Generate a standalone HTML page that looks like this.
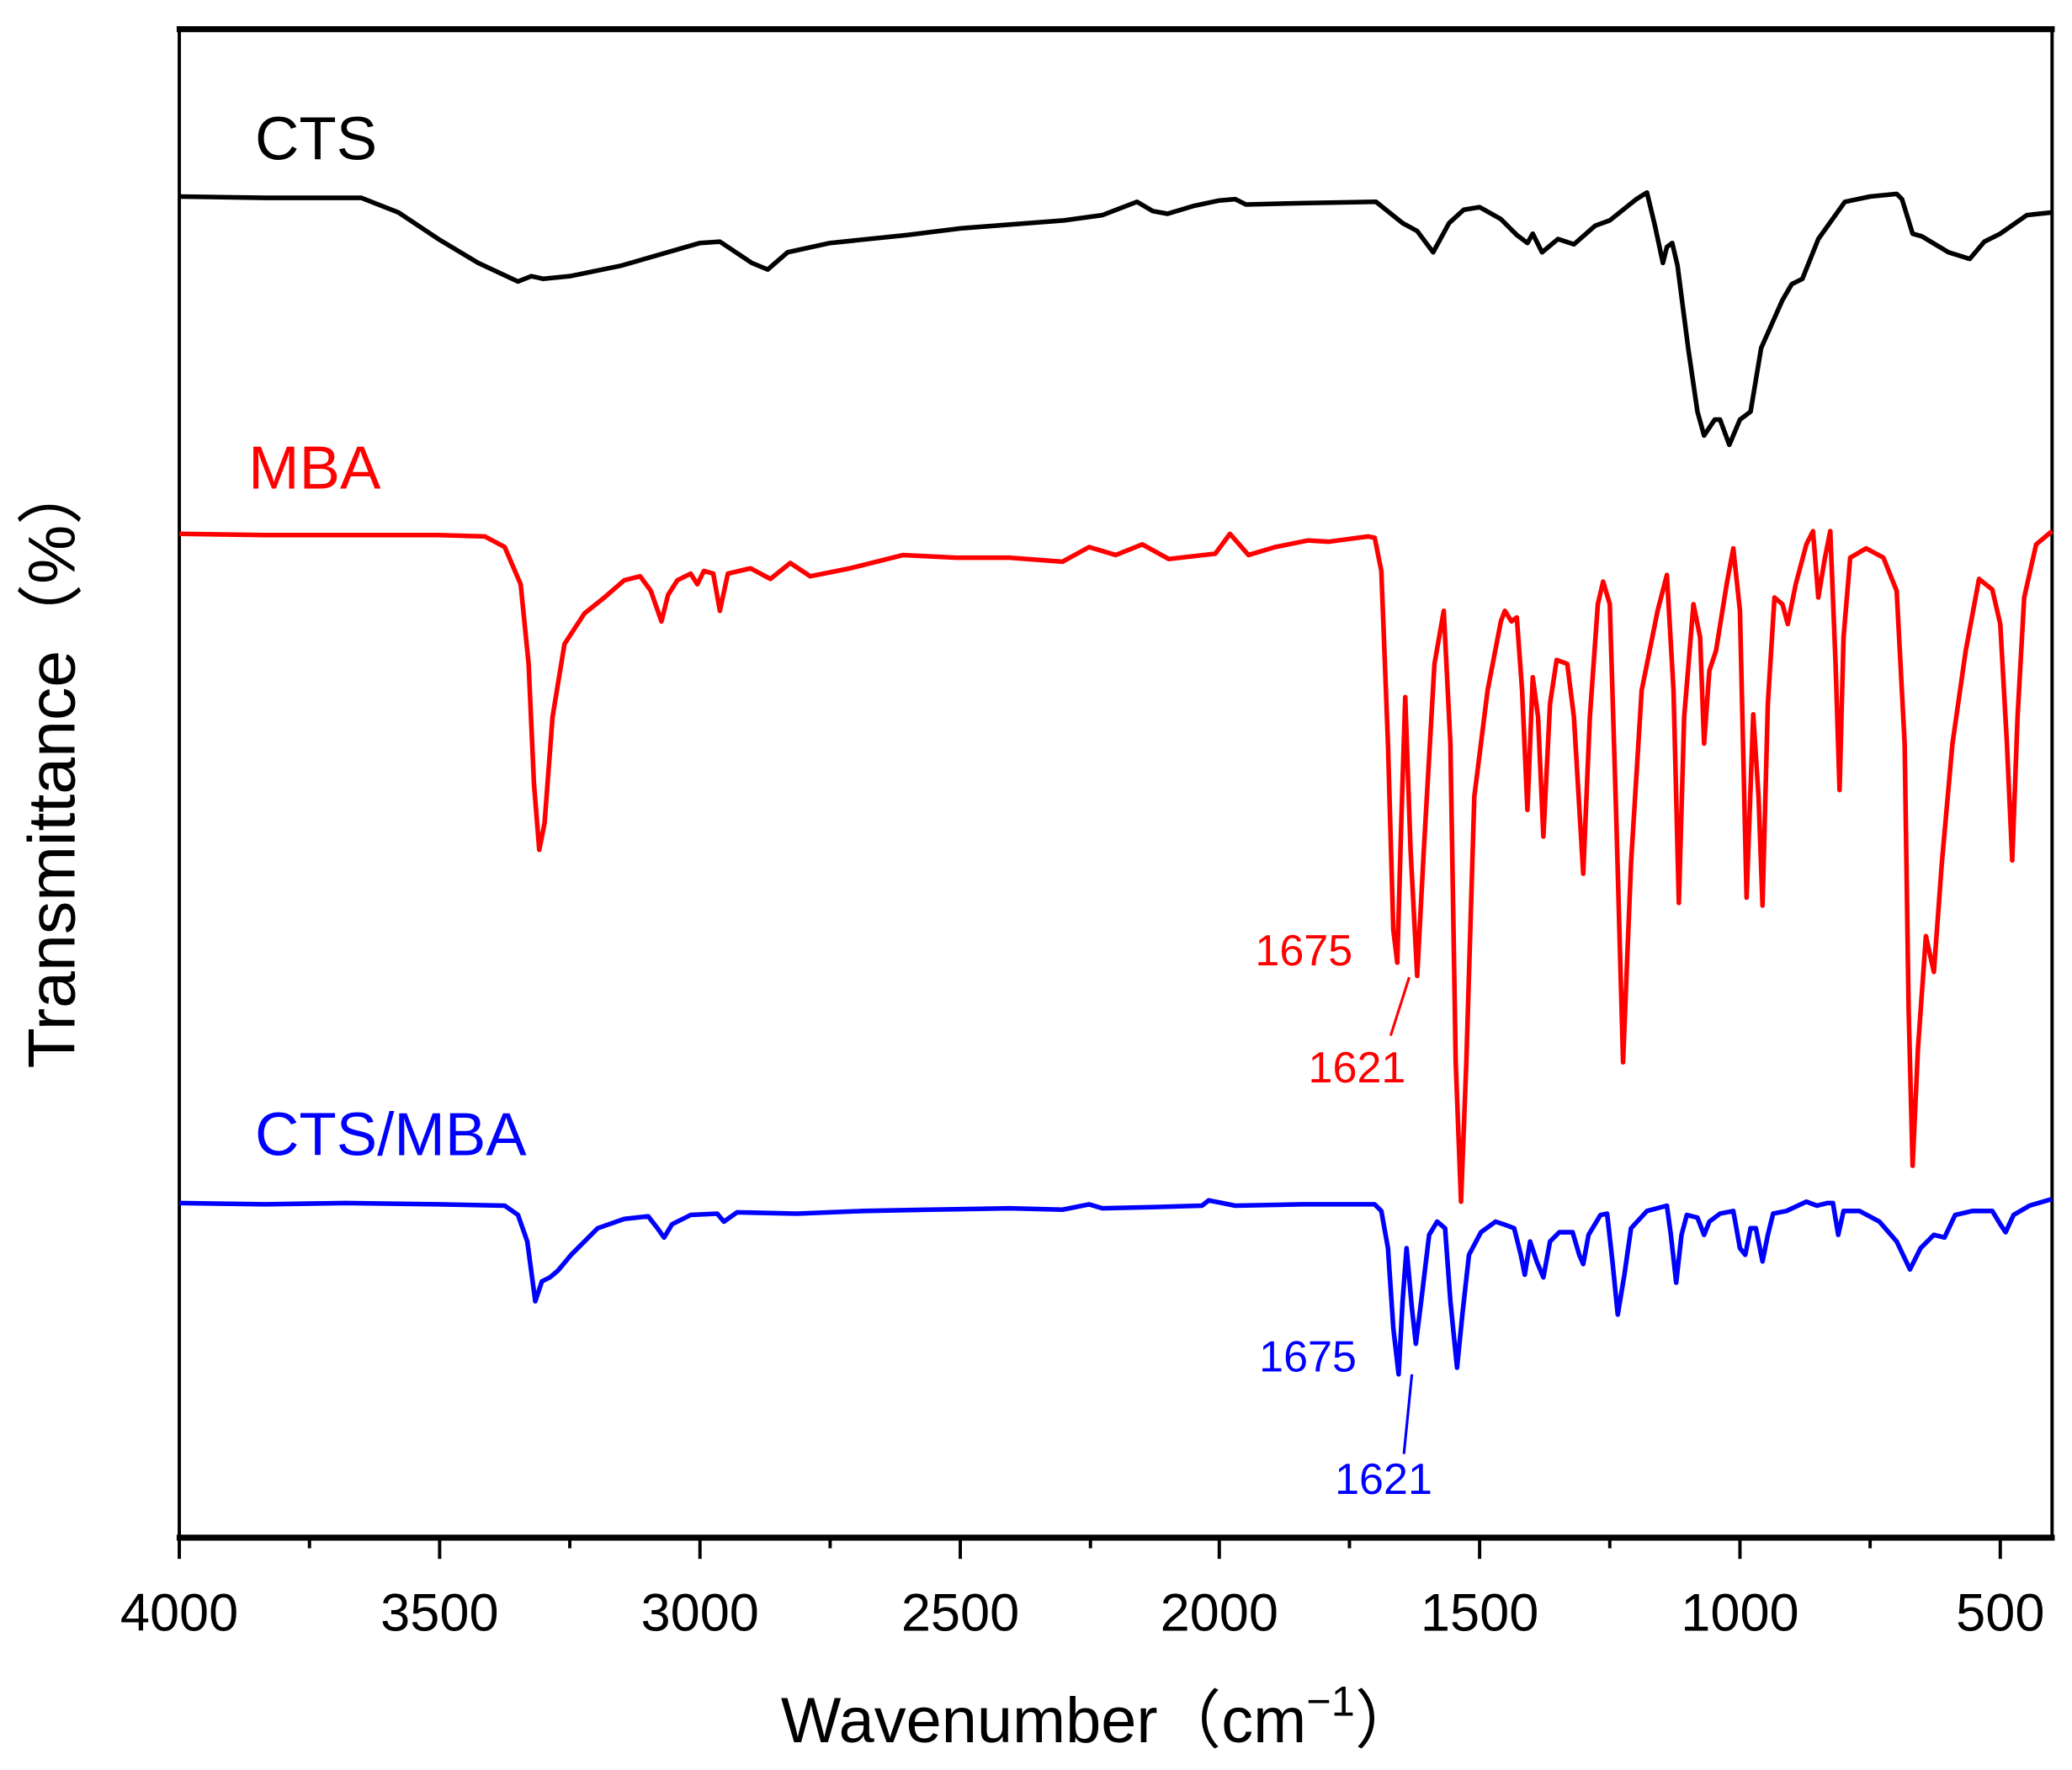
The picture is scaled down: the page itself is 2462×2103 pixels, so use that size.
<!DOCTYPE html>
<html><head><meta charset="utf-8"><style>html,body{margin:0;padding:0;background:#fff}svg{display:block}</style></head>
<body>
<svg width="2462" height="2103" viewBox="0 0 1560 1333" preserveAspectRatio="none" xmlns="http://www.w3.org/2000/svg" font-family="Liberation Sans, Arial, sans-serif">
<rect x="0" y="0" width="1560" height="1333" fill="#fff"/>
<rect x="135" y="22" width="1410" height="1136" fill="none" stroke="#000" stroke-width="2.5"/>
<line x1="133" y1="22" x2="1547" y2="22" stroke="#000" stroke-width="4.5"/>
<line x1="133" y1="1158" x2="1547" y2="1158" stroke="#000" stroke-width="4.5"/>
<g stroke="#000" stroke-width="2.5">
<line x1="135" y1="1158" x2="135" y2="1174"/><line x1="331" y1="1158" x2="331" y2="1174"/><line x1="527" y1="1158" x2="527" y2="1174"/><line x1="723" y1="1158" x2="723" y2="1174"/><line x1="918" y1="1158" x2="918" y2="1174"/><line x1="1114" y1="1158" x2="1114" y2="1174"/><line x1="1310" y1="1158" x2="1310" y2="1174"/><line x1="1506" y1="1158" x2="1506" y2="1174"/>
<line x1="233" y1="1158" x2="233" y2="1166"/><line x1="429" y1="1158" x2="429" y2="1166"/><line x1="625" y1="1158" x2="625" y2="1166"/><line x1="821" y1="1158" x2="821" y2="1166"/><line x1="1016" y1="1158" x2="1016" y2="1166"/><line x1="1212" y1="1158" x2="1212" y2="1166"/><line x1="1408" y1="1158" x2="1408" y2="1166"/>
</g>
<g font-size="40" text-anchor="middle" fill="#000">
<text x="135" y="1228">4000</text><text x="331" y="1228">3500</text><text x="527" y="1228">3000</text><text x="723" y="1228">2500</text><text x="918" y="1228">2000</text><text x="1114" y="1228">1500</text><text x="1310" y="1228">1000</text><text x="1506" y="1228">500</text>
</g>
<text x="828" y="1312" font-size="48" text-anchor="middle">Wavenumber（cm<tspan dy="-20" font-size="32">−1</tspan><tspan dy="20">）</tspan></text>
<text transform="translate(56,575) rotate(-90)" font-size="50" text-anchor="middle">Transmittance（%）</text>
<polyline fill="none" stroke="#000" stroke-width="3.5" stroke-linejoin="round" points="135,148 200,149 272,149 300,160 330,180 360,198 390,212 400,208 409,210 429,208 468,200 527,183 542,182 566,198 578,203 593,190 625,183 683,177 723,172 801,166 830,162 856,152 868,159 879,161 899,155 918,151 930,150 938,154 980,153 1036,152 1056,168 1067,174 1079,190 1091,168 1102,158 1114,156 1130,165 1142,177 1150,183 1154,176 1161,190 1173,180 1185,184 1201,170 1212,166 1232,150 1240,145 1246,170 1252,198 1255,186 1259,183 1263,200 1271,262 1278,310 1283,328 1291,316 1295,316 1302,335 1310,316 1318,310 1326,262 1342,226 1349,214 1357,210 1369,180 1389,152 1408,148 1428,146 1432,150 1440,176 1447,178 1467,190 1483,195 1494,182 1506,176 1526,162 1545,160"/>
<polyline fill="none" stroke="#ff0000" stroke-width="3.5" stroke-linejoin="round" points="135,402 200,403 260,403 330,403 365,404 380,412 392,440 398,500 402,590 406,640 410,620 416,540 425,485 440,462 455,450 470,437 482,434 490,445 498,468 503,448 510,437 520,432 525,440 530,430 537,432 542,460 548,432 565,428 580,436 595,424 610,434 640,428 680,418 720,420 760,420 800,423 820,412 840,418 860,410 880,421 915,417 926,402 940,418 960,412 985,407 1000,408 1030,404 1035,405 1040,430 1045,560 1049,700 1052,725 1055,620 1058,525 1062,640 1067,735 1072,640 1080,500 1087,460 1092,560 1096,800 1100,905 1104,800 1110,600 1120,520 1130,468 1133,460 1138,468 1142,465 1146,520 1150,610 1154,510 1158,540 1162,630 1167,530 1172,497 1180,500 1185,540 1192,658 1197,540 1203,455 1207,438 1212,455 1217,620 1222,800 1228,650 1236,520 1248,460 1255,433 1260,520 1264,680 1268,540 1275,455 1280,480 1283,560 1287,505 1292,490 1300,440 1305,413 1310,460 1315,676 1320,538 1324,600 1327,682 1331,530 1336,450 1342,455 1346,470 1352,440 1360,410 1365,400 1369,450 1374,420 1378,400 1382,500 1385,595 1388,480 1393,420 1405,413 1418,420 1428,445 1434,560 1437,760 1440,878 1444,790 1450,705 1456,732 1462,650 1470,560 1480,490 1490,436 1500,444 1506,470 1511,560 1515,648 1519,540 1524,450 1533,410 1545,400"/>
<polyline fill="none" stroke="#0000ff" stroke-width="3.5" stroke-linejoin="round" points="135,906 200,907 260,906 330,907 380,908 390,915 397,935 403,980 408,965 414,962 420,957 430,945 450,925 470,918 488,916 495,925 500,932 506,922 520,915 540,914 545,920 555,913 600,914 650,912 700,911 760,910 800,911 820,907 830,910 870,909 905,908 910,904 930,908 980,907 1035,907 1040,912 1045,940 1049,1000 1053,1035 1056,980 1059,940 1063,985 1066,1012 1070,980 1076,930 1082,920 1088,925 1092,980 1097,1030 1101,990 1106,945 1115,928 1126,920 1132,922 1140,925 1145,945 1148,960 1152,935 1157,950 1162,962 1167,935 1174,928 1184,928 1189,945 1192,952 1196,930 1205,915 1210,914 1214,950 1218,990 1223,960 1228,925 1240,912 1255,908 1258,930 1262,966 1266,930 1270,915 1278,917 1283,930 1287,920 1295,914 1305,912 1310,940 1314,945 1318,925 1322,925 1327,950 1331,930 1335,914 1345,912 1360,905 1368,908 1376,906 1380,906 1384,930 1388,912 1400,912 1415,920 1428,935 1438,956 1446,940 1456,930 1464,932 1472,915 1485,912 1500,912 1506,922 1510,928 1516,915 1528,908 1545,903"/>
<text x="192" y="120" font-size="46" fill="#000">CTS</text>
<text x="187" y="368" font-size="46" fill="#ff0000">MBA</text>
<text x="192" y="870" font-size="46" fill="#0000ff">CTS/MBA</text>
<text x="945" y="727" font-size="33" fill="#ff0000">1675</text>
<text x="985" y="815" font-size="33" fill="#ff0000">1621</text>
<line x1="1061" y1="736" x2="1047" y2="780" stroke="#ff0000" stroke-width="2"/>
<text x="948" y="1033" font-size="33" fill="#0000ff">1675</text>
<text x="1005" y="1125" font-size="33" fill="#0000ff">1621</text>
<line x1="1063" y1="1035" x2="1057" y2="1095" stroke="#0000ff" stroke-width="2"/>
</svg>
</body></html>
